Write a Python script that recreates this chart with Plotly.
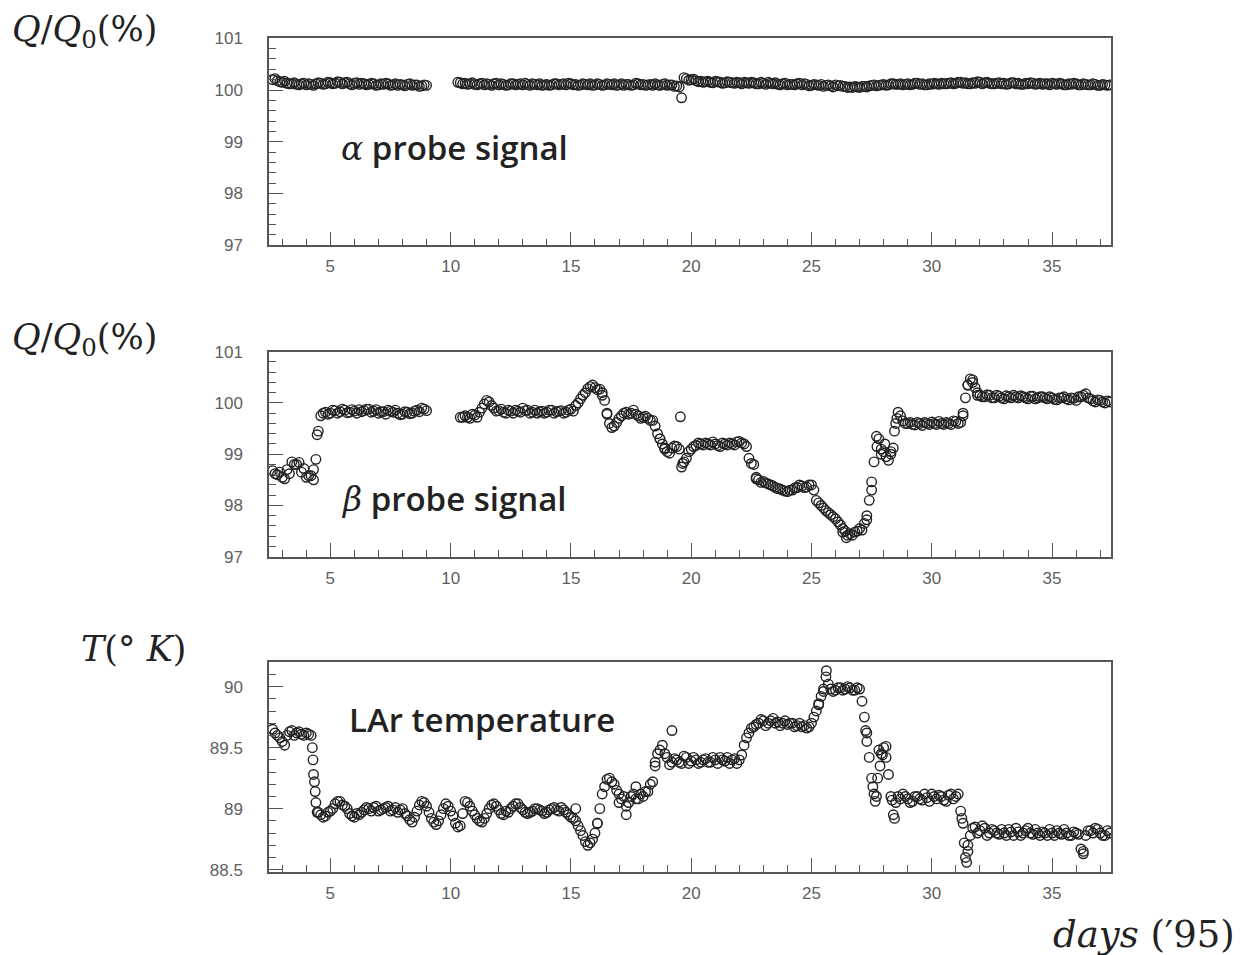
import plotly.graph_objects as go

# ---------------- data ----------------
# readings every 0.2 day (grid A) and the readings in between (grid B), days of 1995
days_a = [round(2.6 + 0.2 * i, 1) for i in range(175)]
days_b = [round(2.7 + 0.2 * i, 1) for i in range(174)]

alpha_a = [
    100.20, 100.18, 100.15, 100.13, 100.12, 100.11, 100.12, 100.10, 100.11, 100.12,
    100.13, 100.12, 100.14, 100.13, 100.15, 100.14, 100.12, 100.13, 100.11, 100.12,
    100.11, 100.12, 100.10, 100.11, 100.12, 100.10, 100.09, 100.10, 100.11, 100.09,
    100.10, 100.08, 100.09, None, None, None, None, None, None, 100.14,
    100.13, 100.12, 100.11, 100.12, 100.10, 100.11, 100.12, 100.10, 100.11, 100.10,
    100.12, 100.11, 100.10, 100.11, 100.12, 100.10, 100.09, 100.11, 100.10, 100.12,
    100.11, 100.10, 100.12, 100.11, 100.10, 100.11, 100.12, 100.10, 100.11, 100.10,
    100.11, 100.12, 100.10, 100.09, 100.11, 100.10, 100.12, 100.11, 100.10, 100.09,
    100.10, 100.11, 100.09, 100.10, 100.08, 99.85, 100.22, 100.20, 100.18, 100.17,
    100.16, 100.15, 100.17, 100.15, 100.14, 100.15, 100.13, 100.14, 100.15, 100.13,
    100.14, 100.12, 100.13, 100.15, 100.12, 100.11, 100.12, 100.10, 100.11, 100.12,
    100.10, 100.11, 100.09, 100.10, 100.11, 100.09, 100.08, 100.10, 100.09, 100.07,
    100.06, 100.07, 100.05, 100.07, 100.08, 100.10, 100.09, 100.11, 100.10, 100.12,
    100.11, 100.10, 100.12, 100.11, 100.13, 100.12, 100.10, 100.11, 100.12, 100.13,
    100.12, 100.14, 100.13, 100.15, 100.14, 100.12, 100.13, 100.15, 100.14, 100.13,
    100.12, 100.14, 100.13, 100.12, 100.14, 100.13, 100.11, 100.12, 100.13, 100.12,
    100.11, 100.12, 100.13, 100.11, 100.12, 100.10, 100.11, 100.12, 100.10, 100.11,
    100.10, 100.11, 100.09, 100.10, 100.10,
]
alpha_b = [
    100.22, 100.16, 100.17, 100.12, 100.14, 100.10, 100.13, 100.12, 100.09, 100.14,
    100.11, 100.15, 100.12, 100.16, 100.12, 100.15, 100.10, 100.14, 100.13, 100.10,
    100.13, 100.09, 100.12, 100.13, 100.09, 100.12, 100.11, 100.08, 100.12, 100.10,
    100.07, 100.10, None, None, None, None, None, None, 100.15, 100.12,
    100.11, 100.14, 100.10, 100.13, 100.12, 100.09, 100.13, 100.12, 100.09, 100.12,
    100.10, 100.12, 100.13, 100.09, 100.11, 100.12, 100.10, 100.09, 100.12, 100.10,
    100.12, 100.13, 100.10, 100.09, 100.12, 100.10, 100.09, 100.12, 100.09, 100.12,
    100.10, 100.09, 100.12, 100.11, 100.09, 100.13, 100.10, 100.09, 100.11, 100.12,
    100.09, 100.12, 100.10, 100.07, 100.06, 100.24, 100.19, 100.21, 100.16, 100.15,
    100.17, 100.14, 100.16, 100.13, 100.16, 100.14, 100.15, 100.12, 100.14, 100.15,
    100.12, 100.15, 100.11, 100.13, 100.14, 100.10, 100.13, 100.11, 100.10, 100.13,
    100.12, 100.08, 100.11, 100.09, 100.07, 100.10, 100.06, 100.08, 100.07, 100.05,
    100.05, 100.06, 100.07, 100.06, 100.09, 100.08, 100.10, 100.09, 100.12, 100.11,
    100.12, 100.11, 100.10, 100.13, 100.11, 100.10, 100.12, 100.13, 100.11, 100.12,
    100.13, 100.12, 100.15, 100.13, 100.12, 100.14, 100.16, 100.12, 100.15, 100.12,
    100.13, 100.12, 100.11, 100.14, 100.12, 100.11, 100.13, 100.14, 100.11, 100.13,
    100.12, 100.10, 100.12, 100.13, 100.10, 100.12, 100.13, 100.10, 100.12, 100.10,
    100.12, 100.09, 100.11, 100.09,
]

beta_a = [
    98.68, 98.60, 98.55, 98.70, 98.85, 98.80, 98.65, 98.55, 98.58, 98.90,
    99.75, 99.82, 99.80, 99.85, 99.83, 99.86, 99.82, 99.84, 99.87, 99.85,
    99.88, 99.84, 99.80, 99.83, 99.86, 99.82, 99.80, 99.78, 99.82, 99.80,
    99.86, 99.90, 99.85, None, None, None, None, None, None, 99.72,
    99.75, 99.70, 99.76, 99.82, 99.98, 100.02, 99.90, 99.85, 99.82, 99.86,
    99.80, 99.84, 99.90, 99.86, 99.82, 99.80, 99.84, 99.82, 99.86, 99.83,
    99.85, 99.82, 99.88, 99.95, 100.08, 100.20, 100.32, 100.30, 100.27, 100.05,
    99.60, 99.55, 99.70, 99.80, 99.78, 99.86, 99.75, 99.72, 99.70, 99.66,
    99.40, 99.20, 99.05, 99.12, 99.15, 98.75, 98.92, 99.10, 99.17, 99.20,
    99.22, 99.18, 99.20, 99.15, 99.20, 99.22, 99.18, 99.25, 99.20, 98.92,
    98.80, 98.50, 98.47, 98.42, 98.38, 98.33, 98.30, 98.27, 98.30, 98.35,
    98.38, 98.36, 98.40, 98.10, 98.00, 97.90, 97.82, 97.74, 97.62, 97.50,
    97.45, 97.48, 97.55, 97.65, 98.10, 98.85, 99.30, 99.05, 98.88, 99.12,
    99.82, 99.65, 99.60, 99.58, 99.62, 99.56, 99.60, 99.63, 99.58, 99.60,
    99.62, 99.58, 99.64, 99.62, 100.10, 100.47, 100.30, 100.15, 100.12, 100.15,
    100.10, 100.13, 100.08, 100.12, 100.15, 100.10, 100.12, 100.08, 100.13, 100.10,
    100.12, 100.08, 100.10, 100.06, 100.10, 100.08, 100.10, 100.05, 100.12, 100.18,
    100.08, 100.02, 100.05, 100.00, 100.02,
]
beta_b = [
    98.62, 98.65, 98.52, 98.62, 98.80, 98.84, 98.72, 98.58, 98.50, 99.45,
    99.80, 99.78, 99.86, 99.80, 99.88, 99.81, 99.87, 99.80, 99.83, 99.88,
    99.82, 99.87, 99.83, 99.78, 99.84, 99.86, 99.77, 99.83, 99.79, 99.84,
    99.83, 99.88, None, None, None, None, None, None, None, 99.72,
    99.72, 99.78, 99.72, 99.90, 100.05, 99.95, 99.84, 99.88, 99.80, 99.84,
    99.86, 99.82, 99.85, 99.80, 99.86, 99.83, 99.80, 99.86, 99.80, 99.84,
    99.80, 99.86, 99.84, 100.00, 100.15, 100.28, 100.35, 100.26, 100.15, 99.78,
    99.52, 99.62, 99.75, 99.82, 99.80, 99.78, 99.70, 99.74, 99.66, 99.55,
    99.30, 99.12, 99.02, 99.16, 99.10, 98.85, 99.05, 99.15, 99.22, 99.18,
    99.20, 99.24, 99.17, 99.22, 99.18, 99.20, 99.24, 99.22, 99.15, 98.82,
    98.55, 98.45, 98.44, 98.40, 98.35, 98.32, 98.28, 98.30, 98.34, 98.40,
    98.35, 98.40, 98.30, 98.05, 97.95, 97.86, 97.78, 97.68, 97.55, 97.42,
    97.42, 97.50, 97.52, 97.72, 98.30, 99.35, 99.10, 98.95, 99.05, 99.60,
    99.75, 99.60, 99.62, 99.57, 99.60, 99.62, 99.58, 99.60, 99.64, 99.58,
    99.60, 99.65, 99.60, 99.75, 100.35, 100.40, 100.20, 100.12, 100.16, 100.10,
    100.15, 100.10, 100.14, 100.10, 100.12, 100.14, 100.10, 100.13, 100.08, 100.12,
    100.10, 100.12, 100.07, 100.10, 100.12, 100.06, 100.09, 100.12, 100.15, 100.10,
    100.04, 100.06, 100.02, 100.04,
]
# additional readings taken during fast transitions
beta_extra_days = [4.3, 4.45, 16.3, 16.5, 18.7, 18.9, 19.55, 19.65, 22.7, 26.3,
                   26.45, 27.3, 27.5, 27.72, 27.9, 28.05, 28.3, 28.45, 28.55, 31.3,
                   31.5, 31.7, 31.9]
beta_extra = [98.70, 99.38, 100.20, 99.80, 99.30, 99.10, 99.73, 98.82, 98.52, 97.48,
              97.37, 97.80, 98.46, 99.15, 99.00, 99.20, 99.00, 99.45, 99.70, 99.80,
              100.35, 100.45, 100.15]

temp_a = [
    89.65, 89.60, 89.55, 89.60, 89.64, 89.62, 89.61, 89.62, 89.60, 89.05,
    88.95, 88.94, 88.98, 89.04, 89.06, 89.02, 88.96, 88.93, 88.95, 88.99,
    89.00, 89.01, 88.98, 89.00, 89.02, 88.99, 88.97, 89.00, 88.94, 88.89,
    88.98, 89.06, 89.02, 88.92, 88.87, 88.95, 89.04, 88.98, 88.88, 88.86,
    89.06, 89.02, 88.95, 88.90, 88.92, 89.00, 89.04, 88.99, 88.95, 88.97,
    89.02, 89.04, 88.99, 88.96, 88.98, 89.00, 88.98, 88.97, 89.00, 88.99,
    89.01, 88.97, 88.93, 88.90, 88.82, 88.73, 88.72, 88.80, 89.00, 89.18,
    89.25, 89.20, 89.12, 89.10, 89.05, 89.12, 89.08, 89.10, 89.14, 89.22,
    89.45, 89.52, 89.42, 89.38, 89.40, 89.37, 89.42, 89.39, 89.40, 89.38,
    89.41, 89.38, 89.40, 89.42, 89.39, 89.37, 89.41, 89.40, 89.52, 89.62,
    89.67, 89.70, 89.72, 89.70, 89.74, 89.71, 89.70, 89.69, 89.70, 89.68,
    89.67, 89.66, 89.70, 89.80, 89.92, 90.08, 89.98, 89.97, 89.99, 89.98,
    89.99, 89.97, 89.98, 89.75, 89.42, 89.12, 89.48, 89.50, 89.28, 88.95,
    89.10, 89.12, 89.08, 89.06, 89.10, 89.07, 89.09, 89.12, 89.08, 89.10,
    89.06, 89.12, 89.10, 88.98, 88.60, 88.78, 88.85, 88.82, 88.84, 88.80,
    88.82, 88.79, 88.80, 88.83, 88.78, 88.81, 88.80, 88.84, 88.79, 88.80,
    88.81, 88.78, 88.80, 88.82, 88.79, 88.80, 88.78, 88.80, 88.67, 88.78,
    88.82, 88.84, 88.80, 88.78, 88.80,
]
temp_b = [
    89.62, 89.58, 89.52, 89.63, 89.60, 89.63, 89.60, 89.61, 89.28, 88.97,
    88.93, 88.97, 89.00, 89.06, 89.03, 89.00, 88.94, 88.96, 88.97, 89.01,
    88.98, 89.02, 88.99, 89.01, 88.98, 89.01, 88.99, 88.96, 88.91, 88.93,
    89.03, 89.05, 88.97, 88.89, 88.90, 89.00, 89.02, 88.94, 88.85, 88.96,
    89.05, 88.98, 88.92, 88.89, 88.96, 89.03, 89.02, 88.96, 88.98, 89.00,
    89.04, 89.01, 88.97, 88.97, 89.00, 88.99, 88.96, 88.99, 89.01, 88.98,
    88.99, 88.95, 88.92, 88.86, 88.78, 88.70, 88.75, 88.88, 89.12, 89.24,
    89.22, 89.15, 89.08, 89.02, 89.10, 89.08, 89.12, 89.14, 89.20, 89.35,
    89.48, 89.45, 89.36, 89.41, 89.38, 89.43, 89.37, 89.42, 89.37, 89.40,
    89.38, 89.42, 89.37, 89.40, 89.42, 89.40, 89.37, 89.44, 89.58, 89.66,
    89.69, 89.73, 89.68, 89.72, 89.70, 89.68, 89.72, 89.70, 89.67, 89.70,
    89.68, 89.67, 89.75, 89.86, 89.98, 90.02, 89.96, 89.99, 89.97, 90.00,
    89.97, 89.99, 89.88, 89.62, 89.25, 89.10, 89.45, 89.42, 89.10, 89.05,
    89.08, 89.10, 89.05, 89.10, 89.08, 89.12, 89.06, 89.10, 89.11, 89.07,
    89.11, 89.08, 89.12, 88.88, 88.70, 88.84, 88.80, 88.86, 88.78, 88.83,
    88.80, 88.83, 88.78, 88.81, 88.84, 88.78, 88.82, 88.80, 88.83, 88.78,
    88.80, 88.83, 88.78, 88.80, 88.83, 88.78, 88.81, 88.79, 88.65, 88.82,
    88.80, 88.83, 88.78, 88.82,
]
temp_extra_days = [4.25, 4.28, 4.34, 4.37, 4.45, 15.2, 16.1, 17.0, 17.3, 17.7,
                   18.5, 19.2, 25.3, 25.5, 25.62, 27.25, 27.3, 27.55, 27.65, 27.75,
                   27.85, 27.95, 28.1, 28.35, 28.45, 31.25, 31.35, 31.45, 31.5, 36.3]
temp_extra = [89.50, 89.40, 89.22, 89.14, 88.97, 89.00, 88.88, 89.05, 88.95, 89.18,
              89.38, 89.64, 89.85, 89.96, 90.13, 89.64, 89.55, 89.18, 89.06, 89.25,
              89.35, 89.44, 89.51, 89.07, 88.92, 88.92, 88.72, 88.56, 88.65, 88.63]

x_ticks = [5, 10, 15, 20, 25, 30, 35]

# ---------------- figure ----------------
W, H = 1249, 955


# convert target pixel positions (from top-left) into paper fractions,
# compensating for the page offset seen when rendering
def fx(p):
    return (p - 7) / W


def fy(p):
    return 1 - ((p - 15.6) / 0.985) / H


marker = dict(symbol="circle-open", size=9.5, color="#222222", line=dict(width=1.4, color="#222222"))

fig = go.Figure()
panels = [
    ("x", "y", days_a + days_b, alpha_a + alpha_b),
    ("x2", "y2", days_a + days_b + beta_extra_days, beta_a + beta_b + beta_extra),
    ("x3", "y3", days_a + days_b + temp_extra_days, temp_a + temp_b + temp_extra),
]
for xa, ya, xs, ys in panels:
    fig.add_trace(go.Scatter(x=xs, y=ys, mode="markers", marker=marker,
                             xaxis=xa, yaxis=ya, showlegend=False, cliponaxis=True))

tick_font = dict(family="Liberation Sans, Arial, sans-serif", size=17, color="#606060")
line_col = "#555555"


def xaxis(anchor):
    return dict(
        anchor=anchor, domain=[fx(268), fx(1110)], range=[2.45, 37.45],
        tickvals=x_ticks, ticks="inside", ticklen=14, tickwidth=1.2, tickcolor=line_col,
        minor=dict(ticks="inside", dtick=1, tick0=0, ticklen=7, tickwidth=1.2, tickcolor=line_col),
        showline=True, linecolor=line_col, linewidth=1.5, mirror=True,
        showgrid=False, zeroline=False, tickfont=tick_font, ticklabelstandoff=5,
    )


def yaxis(anchor, dom, rng, dtick, minor_dtick):
    return dict(
        anchor=anchor, domain=dom, range=rng, dtick=dtick, tick0=0,
        ticks="inside", ticklen=14, tickwidth=1.2, tickcolor=line_col,
        minor=dict(ticks="inside", dtick=minor_dtick, tick0=0, ticklen=7, tickwidth=1.2, tickcolor=line_col),
        showline=True, linecolor=line_col, linewidth=1.5, mirror=True,
        showgrid=False, zeroline=False, tickfont=tick_font, ticklabelstandoff=21,
    )


fig.update_layout(
    width=W, height=H, autosize=False,
    margin=dict(l=0, r=0, t=0, b=0),
    paper_bgcolor="white", plot_bgcolor="white",
    xaxis=xaxis("y"),
    yaxis=yaxis("x", [fy(245), fy(37)], [97, 101], 1, 0.2),
    xaxis2=xaxis("y2"),
    yaxis2=yaxis("x2", [fy(558), fy(352)], [97, 101], 1, 0.2),
    xaxis3=xaxis("y3"),
    yaxis3=yaxis("x3", [fy(875), fy(664)], [88.48, 90.2], 0.5, 0.1),
)

serif = dict(family="DejaVu Serif, Liberation Serif, serif", size=35, color="#222222")
serif_days = dict(family="DejaVu Serif, Liberation Serif, serif", size=37, color="#222222")
label_font = dict(family="Open Sans, DejaVu Sans, sans-serif", size=33, color="#222222", weight=600)
greek = "<span style=\"font-family:'DejaVu Serif';font-weight:normal\"><i>{}</i></span>"

annotations = [
    dict(x=fx(9), y=fy(30), text="<i>Q</i>/<i>Q</i><sub>0</sub>(%)", font=serif, xanchor="left"),
    dict(x=fx(9), y=fy(340), text="<i>Q</i>/<i>Q</i><sub>0</sub>(%)", font=serif, xanchor="left"),
    dict(x=fx(78), y=fy(651), text="<i>T</i>(° <i>K</i>)", font=serif, xanchor="left"),
    dict(x=fx(1236), y=fy(938), text="<i>days</i> (′95)", font=serif_days, xanchor="right"),
    dict(x=fx(338), y=fy(147), text=greek.format("α") + " probe signal", font=label_font, xanchor="left"),
    dict(x=fx(338), y=fy(500), text=greek.format("β") + " probe signal", font=label_font, xanchor="left"),
    dict(x=fx(346), y=fy(722), text="LAr temperature", font=label_font, xanchor="left"),
]
for a in annotations:
    a.update(xref="paper", yref="paper", showarrow=False, yanchor="middle")
fig.update_layout(annotations=annotations)

fig.write_html("out.html")
